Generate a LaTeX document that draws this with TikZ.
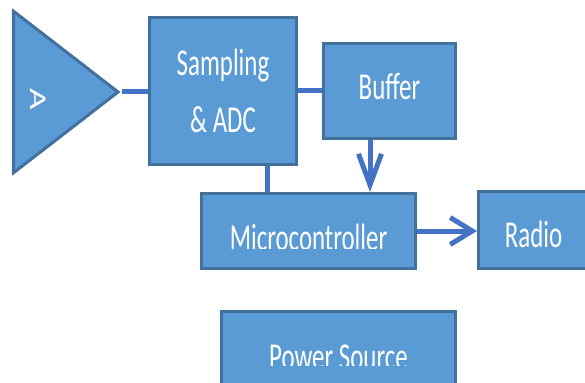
\documentclass[tikz,border=0pt]{standalone}
\usepackage{fontspec}
\setmainfont{Carlito}
\newfontfamily\boxfont[FakeStretch=0.655]{Carlito}
\newfontfamily\ampfont[FakeStretch=1.55]{Carlito}
\usepackage{xcolor}
\usetikzlibrary{shapes.geometric,arrows.meta}
\definecolor{boxfill}{HTML}{5B9BD5}
\definecolor{boxline}{HTML}{41719C}
\definecolor{wirecol}{HTML}{4472C4}

\begin{document}
\begin{tikzpicture}[x=1pt,y=-1pt,>={Straight Barb[length=22pt,width=27pt]},
    block/.style={draw=boxline,line width=3pt,fill=boxfill,text=white,inner sep=0pt,align=center,font=\boxfont\fontsize{38}{57}\selectfont},
    lbl/.style={text=white,inner sep=0pt,font=\boxfont\fontsize{38}{57}\selectfont},
    wire/.style={draw=wirecol,line width=5pt},
    downarrow/.style={wire,-{Straight Barb[length=31pt,width=23pt]}}]
    \useasboundingbox (0,0) rectangle (585,382);

    % blocks
    \node[block,isosceles triangle,isosceles triangle stretches,minimum height=104.5pt,minimum width=161.5pt,anchor=apex] (amp) at (122,92) {};
    \node[lbl,rotate=-90,font=\ampfont\fontsize{24}{24}\selectfont] (ampA) at (38,99) {A};
    \node[block,minimum width=147pt,minimum height=146pt] (sampling) at (223,91) {Sampling\\ \& ADC};
    \node[block,minimum width=132pt,minimum height=95pt,text height=18pt] (buffer) at (389.5,91) {Buffer};
    \node[block,minimum width=214pt,minimum height=75pt] (micro) at (308.5,231) {};
    \node[block,minimum width=110pt,minimum height=77pt,text height=36pt] (radio) at (533.5,230) {Radio};
    \node[block,minimum width=234pt,minimum height=100pt] (power) at (338.5,361.5) {};

    % clipped texts
    \begin{scope}
        \clip (micro.north west) rectangle (micro.east |- 0,248.5);
        \node[lbl,anchor=base] (microtext) at (308.5,250) {Microcontroller};
    \end{scope}
    \begin{scope}
        \clip (power.north west) rectangle (power.east |- 0,365);
        \node[lbl,anchor=base] (powertext) at (338.5,369.5) {Power Source};
    \end{scope}

    % connectors
    \draw[wire] (amp.apex) -- (amp.apex -| sampling.west);
    \draw[wire] (buffer.west -| sampling.east) -- (buffer.west);
    \draw[wire] ([xshift=44pt]sampling.south) -- ([xshift=44pt]sampling.south |- micro.north);
    \draw[downarrow] ([xshift=-19.5pt]buffer.south) -- ([xshift=-19.5pt]buffer.south |- micro.north);
    \draw[wire,->] (micro.east) -- (micro.east -| radio.west);
\end{tikzpicture}
\end{document}
